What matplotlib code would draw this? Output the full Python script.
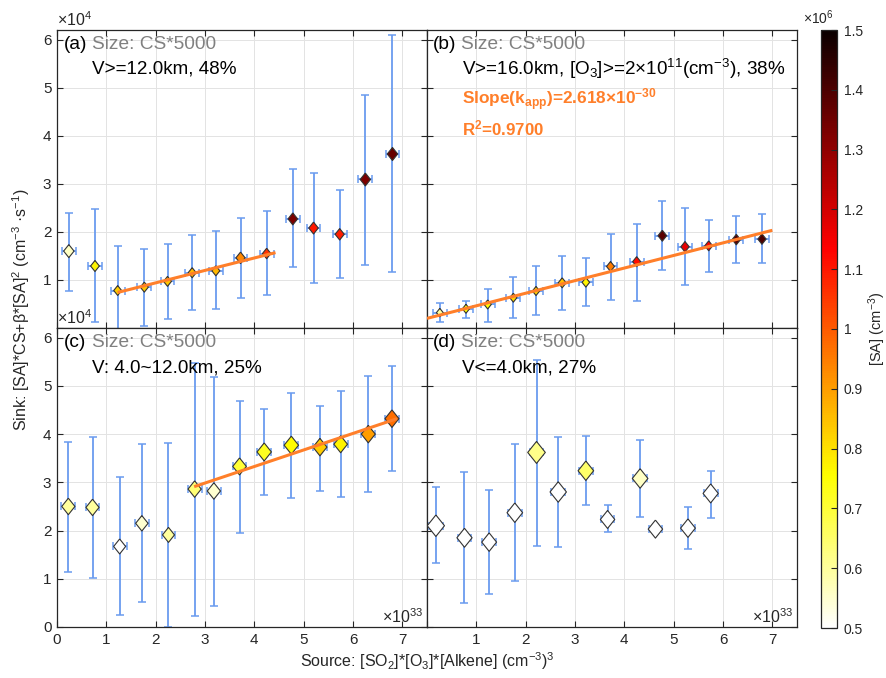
import numpy as np
import matplotlib
matplotlib.use('Agg')
import matplotlib.pyplot as plt
from matplotlib.cm import ScalarMappable
from matplotlib.colors import Normalize

plt.rcParams['font.family'] = ['Liberation Sans', 'DejaVu Sans']
plt.rcParams['mathtext.fontset'] = 'custom'
plt.rcParams['mathtext.rm'] = 'Liberation Sans'
plt.rcParams['mathtext.it'] = 'Liberation Sans:italic'
plt.rcParams['mathtext.bf'] = 'Liberation Sans:bold'

# ---- data (source in 1e33, sink in 1e4, SA in 1e6, CS in s^-1) ----
x_a = [0.24, 0.77, 1.23, 1.77, 2.24, 2.74, 3.22, 3.72, 4.25, 4.78, 5.20, 5.73, 6.25, 6.80]
y_a = [1.60, 1.29, 0.78, 0.85, 0.97, 1.15, 1.19, 1.46, 1.55, 2.27, 2.08, 1.95, 3.09, 3.62]
hi_a = [2.40, 2.47, 1.70, 1.64, 1.74, 1.94, 2.02, 2.29, 2.43, 3.30, 3.23, 2.88, 4.85, 6.09]
lo_a = [0.77, 0.12, -0.2, 0.05, 0.19, 0.38, 0.40, 0.63, 0.68, 1.26, 0.93, 1.03, 1.32, 1.17]
sa_a = [0.56, 0.77, 0.83, 0.84, 0.84, 0.86, 0.86, 0.93, 1.06, 1.33, 1.10, 1.09, 1.33, 1.36]
cs_a = [0.0176, 0.0126, 0.0102, 0.0105, 0.0103, 0.0106, 0.0104, 0.0138, 0.0115, 0.0150,
        0.0148, 0.0136, 0.0174, 0.0177]

x_b = [0.26, 0.79, 1.23, 1.75, 2.21, 2.74, 3.22, 3.72, 4.25, 4.77, 5.23, 5.71, 6.27, 6.79]
y_b = [0.32, 0.40, 0.49, 0.63, 0.77, 0.94, 0.95, 1.28, 1.38, 1.92, 1.69, 1.71, 1.84, 1.85]
hi_b = [0.52, 0.57, 0.81, 1.07, 1.28, 1.50, 1.46, 1.96, 2.16, 2.64, 2.49, 2.25, 2.32, 2.37]
lo_b = [0.12, 0.21, 0.12, 0.21, 0.27, 0.38, 0.45, 0.59, 0.57, 1.21, 0.90, 1.16, 1.35, 1.35]
sa_b = [0.60, 0.75, 0.76, 0.82, 0.82, 0.85, 0.77, 0.95, 1.12, 1.38, 1.17, 1.13, 1.38, 1.40]
cs_b = [0.0075, 0.0084, 0.0085, 0.0083, 0.0086, 0.0104, 0.0094, 0.0103, 0.0105, 0.0125,
        0.0114, 0.0102, 0.0115, 0.0113]

x_c = [0.23, 0.72, 1.27, 1.72, 2.26, 2.79, 3.18, 3.70, 4.20, 4.75, 5.33, 5.75, 6.31, 6.79]
y_c = [2.50, 2.48, 1.67, 2.15, 1.91, 2.86, 2.82, 3.33, 3.63, 3.77, 3.73, 3.79, 4.00, 4.32]
hi_c = [3.84, 3.95, 3.11, 3.79, 3.81, 5.47, 5.19, 4.68, 4.53, 4.86, 4.58, 4.90, 5.21, 5.42]
lo_c = [1.15, 1.01, 0.25, 0.52, 0.00, 0.23, 0.44, 1.94, 2.74, 2.67, 2.83, 2.69, 2.79, 3.24]
sa_c = [0.60, 0.60, 0.50, 0.55, 0.60, 0.64, 0.55, 0.70, 0.72, 0.76, 0.83, 0.77, 0.90, 0.97]
cs_c = [0.0282, 0.0280, 0.0233, 0.0249, 0.0235, 0.0283, 0.0281, 0.0300, 0.0336, 0.0338,
        0.0318, 0.0301, 0.0317, 0.0319]

x_d = [0.18, 0.76, 1.26, 1.78, 2.22, 2.66, 3.22, 3.66, 4.32, 4.63, 5.29, 5.75]
y_d = [2.10, 1.85, 1.76, 2.37, 3.62, 2.80, 3.24, 2.23, 3.08, 2.03, 2.05, 2.77]
hi_d = [2.91, 3.21, 2.84, 3.79, 5.54, 3.93, 3.96, 2.52, 3.87, np.nan, 2.48, 3.24]
lo_d = [1.33, 0.49, 0.68, 0.95, 1.67, 1.65, 2.52, 1.96, 2.28, np.nan, 1.62, 2.27]
sa_d = [0.50, 0.50, 0.50, 0.50, 0.62, 0.50, 0.65, 0.50, 0.56, 0.50, 0.50, 0.50]
cs_d = [0.0480, 0.0374, 0.0355, 0.0394, 0.0502, 0.0436, 0.0393, 0.0336, 0.0395, 0.0337,
        0.0354, 0.0375]

x_err = 0.14

# linear fits: slope, intercept, x start, x end
fit_a = [0.259, 0.421, 1.23, 4.43]
fit_b = [0.2618, 0.20, 0.0, 7.0]
fit_c = [0.343, 1.956, 2.78, 6.89]

labels = ['(a)', '(b)', '(c)', '(d)']
cond = ['V>=12.0km, 48%',
        'V>=16.0km, [O$_3$]>=2$\\times$10$^{11}$(cm$^{-3}$), 38%',
        'V: 4.0~12.0km, 25%',
        'V<=4.0km, 27%']

x_ticks = [0, 1, 2, 3, 4, 5, 6, 7]
y_ticks = [0, 1, 2, 3, 4, 5, 6]
cb_ticks = [0.5, 0.6, 0.7, 0.8, 0.9, 1.0, 1.1, 1.2, 1.3, 1.4, 1.5]

# ---- figure ----
fig = plt.figure(figsize=(8.87, 6.78), dpi=100)
W, H = 887, 678


def px_axes(l, t, r, b):
    return fig.add_axes([l / W, (H - b) / H, (r - l) / W, (b - t) / H])


axs = [px_axes(57, 30, 427, 328), px_axes(427, 30, 797, 328),
       px_axes(57, 328, 427, 627), px_axes(427, 328, 797, 627)]

cmap = plt.colormaps['hot_r']
norm = Normalize(vmin=0.5, vmax=1.5)
diamond = [(0, 1.25), (1, 0), (0, -1.25), (-1, 0), (0, 1.25)]
dark = '#262626'
ebar = '#6a9bef'
fitc = '#ff7f2a'

sets = [(x_a, y_a, hi_a, lo_a, sa_a, cs_a, fit_a),
        (x_b, y_b, hi_b, lo_b, sa_b, cs_b, fit_b),
        (x_c, y_c, hi_c, lo_c, sa_c, cs_c, fit_c),
        (x_d, y_d, hi_d, lo_d, sa_d, cs_d, None)]

for i, (ax, (x, y, hi, lo, sa, cs, fit)) in enumerate(zip(axs, sets)):
    x = np.array(x)
    y = np.array(y)
    yerr = [y - np.array(lo), np.array(hi) - y]
    ax.errorbar(x, y, yerr=yerr, xerr=x_err, fmt='none', ecolor=ebar,
                elinewidth=1.3, capsize=2.8, capthick=1.1, zorder=2)
    ax.scatter(x, y, s=np.array(cs) * 5000, c=sa, cmap=cmap, norm=norm,
               marker=diamond, edgecolors='#333333', linewidths=0.8, zorder=3)
    if fit is not None:
        xf = np.array(fit[2:])
        ax.plot(xf, fit[0] * xf + fit[1], color=fitc, lw=2.2, zorder=4,
                solid_capstyle='butt')

    ax.set_xlim(0, 7.5)
    ax.set_ylim(0, 6.2)
    ax.set_xticks(x_ticks)
    ax.set_yticks(y_ticks)
    ax.grid(True, color='#e3e3e3', lw=0.7)
    ax.set_axisbelow(True)
    ax.tick_params(direction='in', top=True, right=True, length=4, width=0.8,
                   colors=dark, labelsize=11, labelcolor=dark, pad=4)
    for sp in ax.spines.values():
        sp.set_color(dark)
        sp.set_linewidth(0.9)

    if i in (0, 1):
        ax.set_xticklabels([])
    if i in (1, 3):
        ax.set_yticklabels([])
    if i == 0:
        ax.set_yticklabels([''] + [str(t) for t in y_ticks[1:]])
    if i == 3:
        ax.set_xticklabels([''] + [str(t) for t in x_ticks[1:]])

    ty = 0.953 if i < 2 else 0.95
    lx = 0.019 if i % 2 == 0 else 0.016
    ax.text(lx, ty, labels[i], transform=ax.transAxes, fontsize=13.8,
            color='black', va='center', ha='left', zorder=6)
    ax.text(lx + 0.076, ty, 'Size: CS*5000', transform=ax.transAxes,
            fontsize=13.8, color='#808080', va='center', ha='left', zorder=6)
    ax.text(0.095, ty - 0.083, cond[i], transform=ax.transAxes, fontsize=13.6,
            color='black', va='center', ha='left', zorder=6)

# slope text in (b)
axs[1].text(0.094, 0.765, 'Slope(k$_{\\mathbf{app}}$)=2.618$\\mathbf{\\times}$10$^{\\mathbf{-30}}$',
            transform=axs[1].transAxes, fontsize=12.4, fontweight='bold',
            color=fitc, va='center', ha='left')
axs[1].text(0.094, 0.671, 'R$^{\\mathbf{2}}$=0.9700', transform=axs[1].transAxes,
            fontsize=12.2, fontweight='bold', color=fitc, va='center', ha='left')

# exponent labels
for ax in (axs[0], axs[2]):
    ax.text(0.0, 1.004, '\u00d710$^{4}$', transform=ax.transAxes, fontsize=11.5,
            color=dark, ha='left', va='bottom', zorder=10, clip_on=False)
for ax in (axs[2], axs[3]):
    ax.text(0.99, 0.003, '\u00d710$^{33}$', transform=ax.transAxes, fontsize=11.5,
            color=dark, ha='right', va='bottom', zorder=10)

fig.text(21 / W, 1 - 310 / H, 'Sink: [SA]*CS+\u03b2*[SA]$^2$ (cm$^{-3}$ \u00b7s$^{-1}$)',
         rotation=90, fontsize=11.5, color=dark, ha='center', va='center')
fig.text(427 / W, 1 - 661 / H, 'Source: [SO$_2$]*[O$_3$]*[Alkene] (cm$^{-3}$)$^3$',
         fontsize=11.5, color=dark, ha='center', va='center')

# colorbar
cax = px_axes(821, 30, 837, 628)
cb = fig.colorbar(ScalarMappable(norm=norm, cmap=cmap), cax=cax, ticks=cb_ticks)
cb.ax.set_yticklabels(['%g' % t for t in cb_ticks])
cb.ax.tick_params(direction='in', length=4, width=0.8, colors=dark,
                  labelsize=10, labelcolor=dark, pad=5)
cb.outline.set_edgecolor(dark)
cb.outline.set_linewidth(0.9)
cb.set_label('[SA] (cm$^{-3}$)', fontsize=10.5, color=dark, labelpad=2)
fig.text(803 / W, 1 - 27 / H, '\u00d710$^{6}$', fontsize=10, color=dark,
         ha='left', va='bottom')

fig.savefig('out.png', dpi=100)
